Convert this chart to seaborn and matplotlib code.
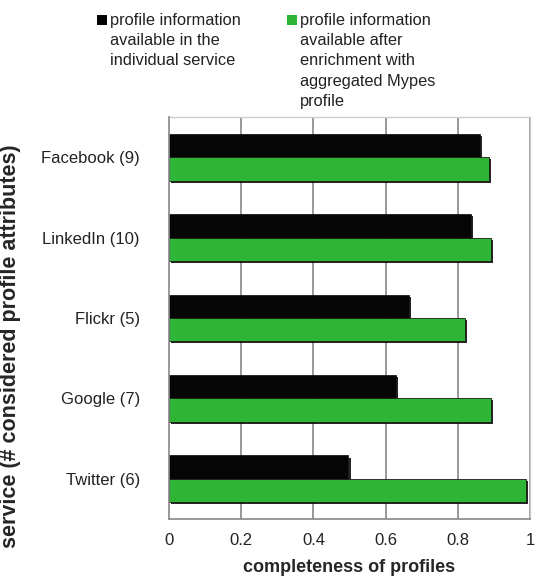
import matplotlib
matplotlib.use("Agg")
import matplotlib.pyplot as plt
import matplotlib.patheffects as pe
from matplotlib.patches import Rectangle
import seaborn as sns
import pandas as pd
import numpy as np

services = ["Facebook (9)", "LinkedIn (10)", "Flickr (5)", "Google (7)", "Twitter (6)"]
series_names = ["profile information\navailable in the\nindividual service",
                "profile information\navailable after\nenrichment with\naggregated Mypes\nprofile"]
individual = [0.861, 0.836, 0.664, 0.628, 0.497]
enriched = [0.886, 0.892, 0.819, 0.892, 0.990]
xticks = [0, 0.2, 0.4, 0.6, 0.8, 1]
xticklabels = ["0", "0.2", "0.4", "0.6", "0.8", "1"]

BLACK = "#050505"
GREEN = "#2fb536"

df = pd.DataFrame({
    "service": services * 2,
    "value": individual + enriched,
    "series": [series_names[0]] * len(services) + [series_names[1]] * len(services),
})

sns.set_style("white")
plt.rcParams["font.family"] = ["Liberation Sans", "DejaVu Sans"]

fig = plt.figure(figsize=(5.35, 5.77), dpi=100)
ax = fig.add_axes([169 / 535, 1 - 519 / 577, (530 - 169) / 535, (519 - 117) / 577])

sns.barplot(data=df, y="service", x="value", hue="series", orient="h",
            palette=[BLACK, GREEN], width=0.58, ax=ax, legend=False,
            saturation=1, edgecolor="#1a1a1a", linewidth=0.6, zorder=3)

for p in ax.patches:
    p.set_path_effects([pe.SimplePatchShadow(offset=(1.5, -1.5), shadow_rgbFace="black", alpha=0.85),
                        pe.Normal()])

ax.set_xlim(0, 1)
ax.set_ylim(len(services) - 0.5, -0.5)
ax.set_xticks(xticks)
ax.set_xticklabels(xticklabels, fontsize=12, color="#222222")
ax.set_yticks(range(len(services)))
ax.set_yticklabels(services, fontsize=12, color="#222222")
ax.tick_params(axis="y", which="major", length=0, pad=21)
ax.set_yticks(np.arange(-0.5, len(services), 1), minor=True)
ax.tick_params(axis="y", which="minor", length=5, color="#777777", width=1, direction="out")
ax.tick_params(axis="x", which="major", length=5, color="#777777", width=1, direction="out", pad=5)

for x in xticks[1:]:
    ax.axvline(x, color="#888888", lw=1.2, zorder=1)

for s in ["top", "right"]:
    ax.spines[s].set_color("#cccccc")
    ax.spines[s].set_linewidth(1)
for s in ["left", "bottom"]:
    ax.spines[s].set_color("#888888")
    ax.spines[s].set_linewidth(1.2)
    ax.spines[s].set_zorder(5)

ax.set_xlabel("completeness of profiles", fontsize=13, fontweight="bold", labelpad=8)
ax.set_ylabel("service (# considered profile attributes)", fontsize=15.5, fontweight="bold")
ax.yaxis.set_label_coords((21 - 169) / 361, (519 - 346) / 402)

# legend drawn manually
W, H = 535, 577
legend_items = [(97, BLACK, series_names[0]), (287, GREEN, series_names[1])]
for xpx, col, txt in legend_items:
    fig.patches.append(Rectangle((xpx / W, 1 - 24.5 / H), 9.5 / W, 9.5 / H,
                                 transform=fig.transFigure, facecolor=col, edgecolor="none"))
    fig.text((xpx + 13) / W, 1 - 12.5 / H, txt, fontsize=11.8, color="#222222",
             va="top", ha="left", linespacing=1.45)

fig.savefig("out.png", dpi=100)
